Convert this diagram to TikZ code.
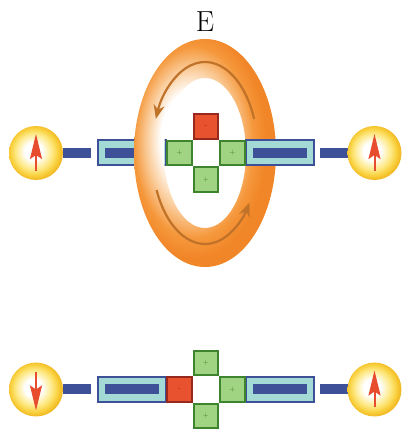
\documentclass[tikz,border=0pt]{standalone}
\usetikzlibrary{arrows.meta}

\definecolor{ringorange}{RGB}{245,152,60}
\definecolor{ringlight}{RGB}{250,202,150}
\definecolor{ringdeep}{RGB}{241,134,40}
\definecolor{flowbrown}{RGB}{192,114,40}
\definecolor{bondblue}{RGB}{62,80,152}
\definecolor{boxcyan}{RGB}{164,218,214}
\definecolor{greenfill}{RGB}{160,212,130}
\definecolor{greenline}{RGB}{62,132,46}
\definecolor{redfill}{RGB}{232,82,46}
\definecolor{redline}{RGB}{150,40,30}
\definecolor{spinred}{RGB}{232,76,46}
\definecolor{spinyellow}{RGB}{253,232,130}
\definecolor{spingold}{RGB}{249,208,60}
\definecolor{spinedge}{RGB}{242,188,40}

% glow of the ring and of the spin balls
\pgfdeclareradialshading{ringglow}{\pgfpoint{-7bp}{4bp}}{color(0bp)=(white); color(10bp)=(white); color(16bp)=(ringlight); color(21bp)=(ringorange); color(25bp)=(ringdeep); color(50bp)=(ringdeep)}
\pgfdeclareradialshading{spinglow}{\pgfpoint{-3bp}{2bp}}{color(0bp)=(white); color(8bp)=(white); color(17bp)=(spinyellow); color(22bp)=(spingold); color(25bp)=(spinedge); color(50bp)=(spinedge)}

\begin{document}
\begin{tikzpicture}[x=1pt,y=1pt]
	\tikzstyle{spin}=[circle,minimum size=54pt,inner sep=0pt,shading=spinglow]
	\tikzstyle{linkbar}=[rectangle,fill=bondblue,minimum width=28pt,minimum height=10pt,inner sep=0pt]
	\tikzstyle{domainbox}=[rectangle,draw=bondblue,line width=2pt,fill=boxcyan,minimum width=68pt,minimum height=25pt,inner sep=0pt]
	\tikzstyle{corebar}=[rectangle,fill=bondblue,minimum width=54pt,minimum height=10pt,inner sep=0pt]
	\tikzstyle{site}=[rectangle,line width=2pt,minimum size=24.5pt,inner sep=0pt,font=\fontsize{7}{7}\selectfont]
	\tikzstyle{possite}=[site,draw=greenline,fill=greenfill,text=greenline]
	\tikzstyle{negsite}=[site,draw=redline,fill=redfill,text=redline]
	\tikzstyle{holesite}=[site,fill=white]
	\tikzstyle{moment}=[draw=spinred,line width=2pt,-{Stealth[length=25pt,width=12pt,inset=4pt]}]
	\tikzstyle{flow}=[draw=flowbrown,line width=2.2pt,-{Stealth[length=14pt,width=11pt]}]
	\useasboundingbox (0,0) rectangle (402,431);

	% upper chain, threaded through the field ring
	\begin{scope}
		\node [spin] (s1) at (36,278) {};
		\node [linkbar] (l1) at (77,278) {};
		\node [domainbox] (d1) at (132,278) {};
		\node [corebar] at (d1) {};
		% ring of the field
		\coordinate (ring) at (205,278);
		\shade [shading=ringglow,even odd rule] (ring) ellipse [x radius=71pt,y radius=114pt] (ring) ellipse [x radius=41pt,y radius=75pt];
		\draw [flow] ([shift={(22:53pt and 91pt)}]ring) arc [start angle=22,end angle=158,x radius=53pt,y radius=91pt];
		\draw [flow] ([shift={(204:53pt and 91pt)}]ring) arc [start angle=204,end angle=327,x radius=53pt,y radius=91pt];
		\node [domainbox] (d2) at (279.5,278) {};
		\node [corebar] at (d2) {};
		\node [linkbar] (l2) at (333.5,278) {};
		\node [spin] (s2) at (374.5,278) {};
		\node [holesite] (c0) at (206,278) {};
		\node [negsite] (c1) at (206,304.5) {-};
		\node [possite] (c2) at (179.5,278) {+};
		\node [possite] (c3) at (232.5,278) {+};
		\node [possite] (c4) at (206,251.5) {+};
		\draw [moment] ([yshift=-18pt]s1.center) -- ([yshift=19pt]s1.center);
		\draw [moment] ([yshift=-18pt]s2.center) -- ([yshift=19pt]s2.center);
		\node [font=\fontsize{29}{30}\selectfont] (E) at (205,409) {E};
	\end{scope}

	% lower chain
	\begin{scope}
		\node [spin] (s3) at (36,41.5) {};
		\node [linkbar] (l3) at (77,41.5) {};
		\node [domainbox] (d3) at (132,41.5) {};
		\node [corebar] at (d3) {};
		\node [domainbox] (d4) at (279.5,41.5) {};
		\node [corebar] at (d4) {};
		\node [linkbar] (l4) at (333.5,41.5) {};
		\node [spin] (s4) at (374.5,41.5) {};
		\node [holesite] (c5) at (206,41.5) {};
		\node [negsite] (c6) at (179.5,41.5) {-};
		\node [possite] (c7) at (232.5,41.5) {+};
		\node [possite] (c8) at (206,68) {+};
		\node [possite] (c9) at (206,15) {+};
		\draw [moment] ([yshift=17pt]s3.center) -- ([yshift=-21pt]s3.center);
		\draw [moment] ([yshift=-18pt]s4.center) -- ([yshift=19pt]s4.center);
	\end{scope}
\end{tikzpicture}
\end{document}
